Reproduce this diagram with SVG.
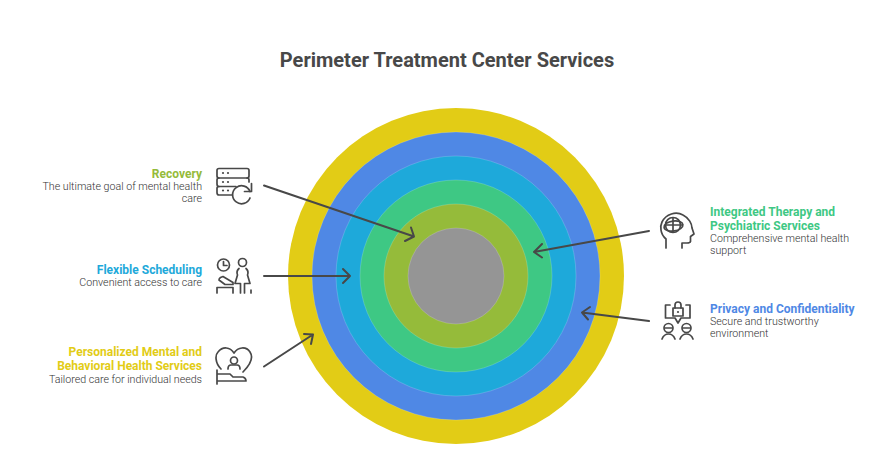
<svg xmlns="http://www.w3.org/2000/svg" width="883" height="453" viewBox="0 0 883 453">
<style>
text{font-family:Roboto,"Liberation Sans",sans-serif}
.title{font-size:20px;font-weight:700;fill:#484848;text-anchor:middle}
.h{font-size:12px;font-weight:700}
.d{font-size:10.670px;font-weight:300;fill:#333}
.r{text-anchor:end}
.ring{stroke:#fff;stroke-opacity:.25;stroke-width:.7}
.ic{fill:none;stroke:#484848;stroke-width:1.700;stroke-linecap:round;stroke-linejoin:round}
.c{fill:none;stroke:#484848;stroke-width:2;stroke-linecap:round;stroke-linejoin:round}
.dot{fill:#484848}
</style>
<rect width="883" height="453" fill="#fff"/>
<text class="title" x="447" y="67">Perimeter Treatment Center Services</text>
<g id="rings">
<circle cx="456" cy="276" r="168" fill="#e2cc16"/>
<circle class="ring" cx="456" cy="276" r="144" fill="#4f88e5"/>
<circle class="ring" cx="456" cy="276" r="120" fill="#1ea9da"/>
<circle class="ring" cx="456" cy="276" r="96" fill="#3ec884"/>
<circle class="ring" cx="456" cy="276" r="72" fill="#95bb3a"/>
<circle class="ring" cx="456" cy="276" r="48" fill="#959595"/>
</g>
<g id="connectors">
<path class="c" d="M264 185.500L414 236.500M411 227.500L414 236.500L405 241"/>
<path class="c" d="M264 276H350M343 269L350 276L343 283"/>
<path class="c" d="M264 366.500L313 334.500M304 334L313 334.500L311 344"/>
<path class="c" d="M649 231L534 252M542 244L534 252L542 257.500"/>
<path class="c" d="M649 321L582 312.500M590 307L582 312.500L588 319.500"/>
</g>
<g id="recovery">
<text class="h r" x="202" y="178" fill="#95bb3a">Recovery</text>
<text class="d r" x="202" y="190">The ultimate goal of mental health</text>
<text class="d r" x="202" y="202">care</text>
<g class="ic"><path d="M219 178H247Q249 178 249 176V170.500Q249 168.500 247 168.500H219Q217 168.500 217 170.500V176Q217 178 219 178Z"/><path d="M219 178Q217 178 217 180V184Q217 186.500 219 186.500H236M247 178Q249 178 249 180V182"/><path d="M219 186.500Q217 186.500 217 188.500V192.500Q217 195 219 195H232"/><path d="M250 191.500A9 9 0 1 0 250 198"/><path d="M251.500 183.500V191.500H244.500"/></g>
<circle class="dot" cx="223" cy="173" r="1.100"/><circle class="dot" cx="228" cy="173" r="1.100"/><circle class="dot" cx="223" cy="182" r="1.100"/><circle class="dot" cx="228" cy="182" r="1.100"/><circle class="dot" cx="223" cy="190.500" r="1.100"/><circle class="dot" cx="228" cy="190.500" r="1.100"/>
</g>
<g id="flexible-scheduling">
<text class="h r" x="202" y="274" fill="#1ea9da">Flexible Scheduling</text>
<text class="d r" x="202" y="286">Convenient access to care</text>
<g class="ic"><circle cx="223.500" cy="265" r="6"/><path d="M223.500 261.500V265.500H227"/><circle cx="242.500" cy="262.500" r="4"/><path d="M239 268.500Q236 271 237.500 275L235 283.500H240.500V293M246 268.500Q249 271 247.500 275L250 283.500H244.500V293"/><path d="M251 290V293"/><path d="M220.500 277.500L223 276.500L233 282.500V284.500H225L219 280Q219 278.500 220.500 277.500Z"/><path d="M217 293V287.500H233V293"/></g>
</g>
<g id="personalized">
<text class="h r" x="202" y="356" fill="#e2cc16">Personalized Mental and</text>
<text class="h r" x="202" y="370" fill="#e2cc16">Behavioral Health Services</text>
<text class="d r" x="202" y="383">Tailored care for individual needs</text>
<g class="ic"><path d="M221 369C215 363 215 355 218 352C223 346 230 347 234 353C238 347 246 346 250 352C254 358 250 365 243 372"/><circle cx="234" cy="360.500" r="3.500"/><path d="M228 369Q228 365 231 365H237Q240 365 240 369"/><path d="M217 370V384M217 374H230L233 377H243Q246 378 246 381H217"/></g>
</g>
<g id="integrated-therapy">
<text class="h" x="710" y="216" fill="#3ec884">Integrated Therapy and</text>
<text class="h" x="710" y="230" fill="#3ec884">Psychiatric Services</text>
<text class="d" x="710" y="242">Comprehensive mental health</text>
<text class="d" x="710" y="254">support</text>
<g class="ic"><path d="M666 248V239C660 234 660 226 662 222C666 214 676 211 683 215C689 218 692 224 692 228L694 234L690.500 236.500V241.500Q690 243 687 243H682V248"/><circle cx="673" cy="225" r="7.500"/><ellipse cx="673.500" cy="226" rx="9.500" ry="5" transform="rotate(-8 673.500 226)"/><path d="M673 218V231M665.500 225H682"/></g>
</g>
<g id="privacy">
<text class="h" x="710" y="313" fill="#4f88e5">Privacy and Confidentiality</text>
<text class="d" x="710" y="325">Secure and trustworthy</text>
<text class="d" x="710" y="337">environment</text>
<g class="ic"><path d="M670 305H665.500V318H675L678 323L681 318H690V305H686"/><rect x="673" y="308" width="10" height="8"/><path d="M675 308V305A3 3 0 0 1 681 305V308"/><circle cx="668.500" cy="328" r="4.500"/><path d="M665 328H672"/><path d="M662 339Q664 334 668.500 334Q673 334 675 339"/><circle cx="686.500" cy="328" r="4.500"/><path d="M683 328H690"/><path d="M680 339Q682 334 686.500 334Q691 334 693 339"/></g>
<circle class="dot" cx="678" cy="312" r="1.100"/>
</g>
</svg>
